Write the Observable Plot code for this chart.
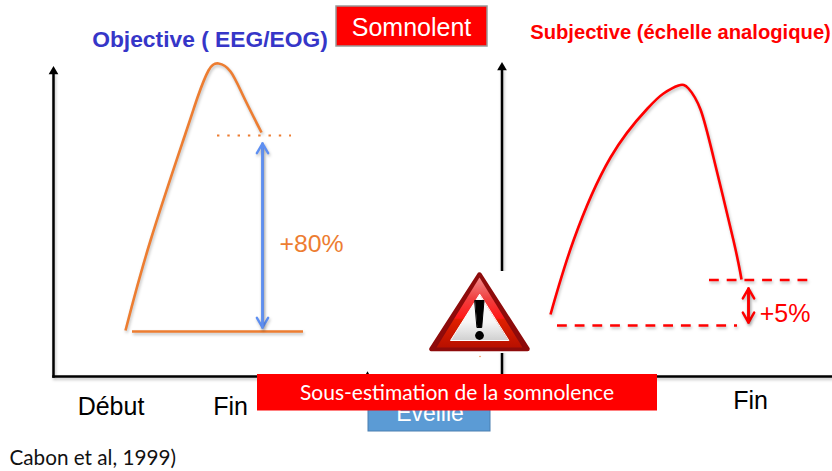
<!DOCTYPE html>
<html><head><meta charset="utf-8">
<script src="https://cdn.jsdelivr.net/npm/d3@7"></script>
<script src="https://cdn.jsdelivr.net/npm/@observablehq/plot@0.6"></script>
<style>html,body{margin:0;padding:0;background:#fff}svg{display:block}
.sh{filter:drop-shadow(1px 2px 1.5px rgba(0,0,0,.25))}</style>
</head><body><div id="chart"></div>
<script>
const orangeCurveX = [125,150,185,197,208,218,230,243,261];
const orangeCurveY = [330,240,133,97,70,63,71,96,132];
const redCurveX = [550,573,610,647,663,678,688,700,713,733,741];
const redCurveY = [314,240,157,108,93,85,88,109,157,240,279];
const axes = [[53,376,53,73],[53,376,368,376],[501.5,376,501.5,69],[501.5,376,832,376]];
const axisTips = [[53,71],[501.5,67]];
const orangeBase = [132,303,331];
const orangeDots = [217,291,135];
const redDashTop = [709,808,279.5];
const redDashBottom = [557,737,325];
const blueArrow = [262,143,327];
const redArrow = [748,288,322];
const labels = ["Début","Fin","Fin"];
const labelX = [110.5,230,750];
const labelY = [406,406,400];
const iconOuter = [[479,274],[431,348.5],[527,348.5]];
const iconGlow = [[479,277],[436,347],[522,347]];
const iconWhite = [[479,294],[450,340],[508,340]];
const bangBar = [[474.5,300],[483.5,300],[481.2,327],[476.8,327]];
const specks = [[479.5,356]];

const tri = (pts, fill, stroke, strokeWidth) => Plot.line(pts, {
  x: d => d[0], y: d => d[1], z: null, fill, stroke: stroke ?? "none",
  strokeWidth: strokeWidth ?? 0, strokeLinejoin: "round", curve: "linear-closed"
});
const T = (text, x, y, o) => Plot.text([text], {x: () => x, y: () => y, text: d => d, lineAnchor: "middle", textAnchor: "middle", ...o});
const sans = "Liberation Sans, Arial, sans-serif";

const defs = () => {
  const ns = "http://www.w3.org/2000/svg";
  const d = document.createElementNS(ns, "defs");
  d.innerHTML = `
   <linearGradient id="g-red" x1="0" y1="0" x2="0" y2="1"><stop offset="0" stop-color="#f28a8a"/><stop offset=".3" stop-color="#f04040"/><stop offset=".58" stop-color="#ff1818"/><stop offset=".6" stop-color="#e02000"/><stop offset="1" stop-color="#b81000"/></linearGradient>
   <linearGradient id="g-white" x1="0" y1="0" x2="0" y2="1"><stop offset="0" stop-color="#ffffff"/><stop offset=".6" stop-color="#f6f6f6"/><stop offset="1" stop-color="#d0d0d0"/></linearGradient>`;
  return d;
};

const chart = Plot.plot({
  width: 832, height: 471,
  margin: 0,
  x: {domain: [0, 832], range: [0, 832], axis: null},
  y: {domain: [0, 471], range: [0, 471], axis: null},
  marks: [
    defs,
    // axes
    Plot.link(axes, {x1: d => d[0], y1: d => d[1], x2: d => d[2], y2: d => d[3], stroke: "#000", strokeWidth: 2.5, strokeLinecap: "square", className: "sh"}),
    Plot.dot(axisTips, {x: d => d[0], y: d => d[1], symbol: "triangle", r: 3.6, fill: "#000", stroke: "none"}),
    Plot.dot([[367,375.5]], {x: d => d[0], y: d => d[1], symbol: "triangle", r: 3, fill: "#000", stroke: "none"}),
    // left panel
    Plot.line(orangeCurveX.map((x, i) => [x, orangeCurveY[i]]), {x: d => d[0], y: d => d[1], stroke: "#ED7D31", strokeWidth: 2.6, curve: "natural", strokeLinecap: "butt", className: "sh"}),
    Plot.ruleY([orangeBase], {x1: d => d[0], x2: d => d[1], y: d => d[2], stroke: "#ED7D31", strokeWidth: 2.5, className: "sh"}),
    Plot.ruleY([orangeDots], {x1: d => d[0], x2: d => d[1], y: d => d[2], stroke: "#ED7D31", strokeWidth: 2, strokeDasharray: "2.4,7.9"}),
    Plot.arrow([blueArrow], {x1: d => d[0], x2: d => d[0], y1: d => d[1], y2: d => d[2], stroke: "#5E8FF2", strokeWidth: 2.4, headLength: 7, className: "sh"}),
    Plot.arrow([blueArrow], {x1: d => d[0], x2: d => d[0], y1: d => d[2], y2: d => d[1], stroke: "#5E8FF2", strokeWidth: 2.4, headLength: 7, className: "sh"}),
    T("+80%", 311, 243.5, {fill: "#ED7D31", fontFamily: sans, fontSize: 24.8}),
    // right panel
    Plot.line(redCurveX.map((x, i) => [x, redCurveY[i]]), {x: d => d[0], y: d => d[1], stroke: "#FF0000", strokeWidth: 2.6, curve: "natural", strokeLinecap: "butt", className: "sh"}),
    Plot.ruleY([redDashTop], {x1: d => d[0], x2: d => d[1], y: d => d[2], stroke: "#FF0000", strokeWidth: 2.5, strokeDasharray: "9.8,7.9", className: "sh"}),
    Plot.ruleY([redDashBottom], {x1: d => d[0], x2: d => d[1], y: d => d[2], stroke: "#FF0000", strokeWidth: 2.5, strokeDasharray: "9.8,7.9", className: "sh"}),
    Plot.arrow([redArrow], {x1: d => d[0], x2: d => d[0], y1: d => d[1], y2: d => d[2], stroke: "#FF0000", strokeWidth: 2.5, headLength: 7, className: "sh"}),
    Plot.arrow([redArrow], {x1: d => d[0], x2: d => d[0], y1: d => d[2], y2: d => d[1], stroke: "#FF0000", strokeWidth: 2.5, headLength: 7, className: "sh"}),
    T("+5%", 784.5, 313, {fill: "#FF0000", fontFamily: sans, fontSize: 25}),
    // x labels
    Plot.text(labels, {x: (d, i) => labelX[i], y: (d, i) => labelY[i], text: d => d, lineAnchor: "middle", fontFamily: sans, fontSize: 25, fill: "#000"}),
    // titles
    T("Objective ( EEG/EOG)", 209.5, 39, {fill: "#3636C8", fontFamily: sans, fontSize: 22.8, fontWeight: "bold"}),
    T("Subjective (échelle analogique)", 680, 32, {fill: "#FF0000", fontFamily: sans, fontSize: 20.2, fontWeight: "bold"}),
    Plot.rect([[336,487,6,46]], {x1: d => d[0], x2: d => d[1], y1: d => d[2], y2: d => d[3], fill: "#FF0000", stroke: "#999", strokeWidth: 1.5}),
    T("Somnolent", 411, 27, {fill: "#fff", fontFamily: sans, fontSize: 25}),
    // warning sign
    Plot.rect([[429,529,271,353]], {x1: d => d[0], x2: d => d[1], y1: d => d[2], y2: d => d[3], fill: "#fff"}),
    tri(iconOuter, "#8E0B0B", "#8E0B0B", 4.5),
    tri(iconGlow, "url(#g-red)"),
    tri(iconWhite, "url(#g-white)", "#fff", 1),
    tri(bangBar, "#000", "#000", 1),
    Plot.dot([[479,335]], {x: d => d[0], y: d => d[1], r: 4.4, fill: "#000", stroke: "none"}),
    Plot.dot(specks, {x: d => d[0], y: d => d[1], r: 0.7, fill: "#ED7D31", stroke: "none"}),
    // bottom boxes
    Plot.rect([[368,490,397,431]], {x1: d => d[0], x2: d => d[1], y1: d => d[2], y2: d => d[3], fill: "#5B9BD5", stroke: "#4A7EB0", strokeWidth: 1}),
    T("Eveillé", 429.5, 413, {fill: "#fff", fontFamily: sans, fontSize: 23}),
    Plot.rect([[257,657,374,410.5]], {x1: d => d[0], x2: d => d[1], y1: d => d[2], y2: d => d[3], fill: "#FF0000"}),
    T("Sous-estimation de la somnolence", 456.5, 393, {fill: "#fff", fontFamily: "Lato, sans-serif", fontSize: 21}),
    Plot.text(["Cabon et al, 1999)"], {x: () => 9, y: () => 458, text: d => d, textAnchor: "start", lineAnchor: "middle", fontFamily: "Lato, sans-serif", fontSize: 20.7, fill: "#111"})
  ]
});
document.getElementById("chart").append(chart);
</script></body></html>
